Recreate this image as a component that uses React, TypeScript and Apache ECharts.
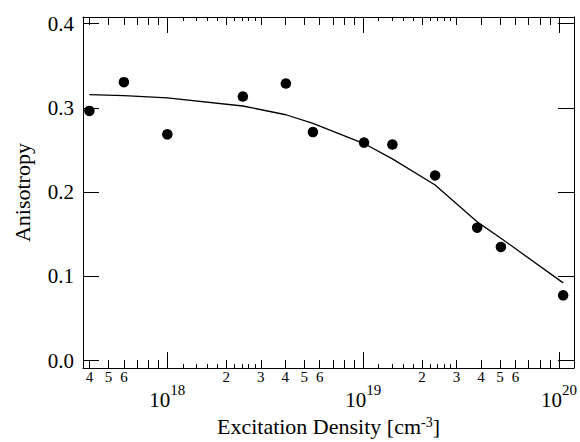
import React, { useEffect, useRef } from 'react';
import * as echarts from 'echarts';

// Measured points: excitation density [cm^-3] and anisotropy
const densities = [4.0e17, 6.0e17, 1.0e18, 2.43e18, 4.03e18, 5.54e18, 1.01e19, 1.41e19, 2.33e19, 3.82e19, 5.05e19, 1.05e20];
const anisotropy = [0.2965, 0.3306, 0.2686, 0.3135, 0.329, 0.2713, 0.2588, 0.2565, 0.2198, 0.1577, 0.1349, 0.0774];

// Fit curve
const fitDensities = [4.0e17, 6.0e17, 1.0e18, 2.43e18, 4.03e18, 5.54e18, 1.01e19, 1.41e19, 2.33e19, 3.82e19, 5.05e19, 1.05e20];
const fitValues = [0.3158, 0.3145, 0.312, 0.3023, 0.2919, 0.2817, 0.2577, 0.2395, 0.2085, 0.1647, 0.1453, 0.0922];

// Axis ticks
const majorTicks = [1e18, 1e19, 1e20];
const minorTicks = [4e17, 5e17, 6e17, 7e17, 8e17, 9e17, 2e18, 3e18, 4e18, 5e18, 6e18, 7e18, 8e18, 9e18, 2e19, 3e19, 4e19, 5e19, 6e19, 7e19, 8e19, 9e19];
const minorLabels = [4e17, 5e17, 6e17, 2e18, 3e18, 4e18, 5e18, 6e18, 2e19, 3e19, 4e19, 5e19, 6e19];
const smallTicks = [1.2e18, 1.4e18, 1.6e18, 1.8e18, 2.2e18, 2.4e18, 2.6e18, 2.8e18, 1.2e19, 1.4e19, 1.6e19, 1.8e19, 2.2e19, 2.4e19, 2.6e19, 2.8e19];
const yTicks = [0, 0.1, 0.2, 0.3, 0.4];

const X_MIN = Math.log10(3.71e17);
const X_MAX = Math.log10(1.192e20);
const Y_MIN = -0.009;
const Y_MAX = 0.408;

const FONT = '"Liberation Serif", "Times New Roman", serif';
const lg = (arr: number[]) => arr.map((v) => Math.log10(v));

export default function App() {
  const ref = useRef<HTMLDivElement>(null);
  useEffect(() => {
    if (!ref.current) return;
    const chart = echarts.init(ref.current, null, { renderer: 'svg' });

    const xCommon = (position: 'top' | 'bottom', ticks: number[], len: number, showLine: boolean) => ({
      type: 'value',
      position,
      min: X_MIN,
      max: X_MAX,
      gridIndex: 0,
      splitLine: { show: false },
      axisLine: { show: showLine, onZero: false, lineStyle: { color: '#000', width: 1 } },
      axisTick: { show: true, inside: true, length: len, customValues: lg(ticks), lineStyle: { color: '#000', width: 1 } },
      axisLabel: { show: false },
    });

    const majorBottom: any = xCommon('bottom', majorTicks, 16, true);
    majorBottom.axisLabel = {
      show: true,
      customValues: lg(majorTicks),
      margin: 14,
      formatter: (v: number) => `{b|10}{s|${Math.round(v)}}`,
      rich: {
        b: { fontFamily: FONT, fontSize: 21, color: '#000', lineHeight: 28, verticalAlign: 'bottom' },
        s: { fontFamily: FONT, fontSize: 15, color: '#000', lineHeight: 15, verticalAlign: 'top' },
      },
    };
    majorBottom.name = 'Excitation Density [cm{s|-3}]';
    majorBottom.nameLocation = 'middle';
    majorBottom.nameGap = 44;
    majorBottom.nameTextStyle = {
      fontFamily: FONT,
      fontSize: 22,
      color: '#000',
      rich: {
        s: { fontFamily: FONT, fontSize: 14, color: '#000', verticalAlign: 'top', lineHeight: 14 },
      },
    };

    const minorBottom: any = xCommon('bottom', minorTicks, 8, false);
    minorBottom.axisLabel = {
      show: true,
      customValues: lg(minorLabels),
      margin: 1,
      fontFamily: FONT,
      fontSize: 15,
      color: '#000',
      formatter: (v: number) => String(Math.round(Math.pow(10, v - Math.floor(v + 1e-9)))),
    };

    const option: any = {
      animation: false,
      backgroundColor: '#fff',
      grid: { left: 83, right: 4, top: 17, bottom: 66, containLabel: false },
      xAxis: [
        majorBottom,
        minorBottom,
        xCommon('bottom', smallTicks, 4, false),
        xCommon('top', majorTicks, 16, true),
        xCommon('top', minorTicks, 8, false),
        xCommon('top', smallTicks, 4, false),
      ],
      yAxis: [
        {
          type: 'value',
          position: 'left',
          min: Y_MIN,
          max: Y_MAX,
          splitLine: { show: false },
          axisLine: { show: true, onZero: false, lineStyle: { color: '#000', width: 1 } },
          axisTick: { show: true, inside: true, length: 16, customValues: yTicks, lineStyle: { color: '#000', width: 1 } },
          axisLabel: {
            show: true,
            customValues: yTicks,
            margin: 9,
            fontFamily: FONT,
            fontSize: 21,
            color: '#000',
            formatter: (v: number) => v.toFixed(1),
          },
          name: 'Anisotropy',
          nameLocation: 'middle',
          nameRotate: 90,
          nameGap: 50,
          nameTextStyle: { fontFamily: FONT, fontSize: 22, color: '#000' },
        },
        {
          type: 'value',
          position: 'right',
          min: Y_MIN,
          max: Y_MAX,
          splitLine: { show: false },
          axisLine: { show: true, onZero: false, lineStyle: { color: '#000', width: 1 } },
          axisTick: { show: true, inside: true, length: 16, customValues: yTicks, lineStyle: { color: '#000', width: 1 } },
          axisLabel: { show: false },
        },
      ],
      series: [
        {
          type: 'line',
          xAxisIndex: 0,
          yAxisIndex: 0,
          data: fitDensities.map((d, i) => [Math.log10(d), fitValues[i]]),
          showSymbol: false,
          symbol: 'none',
          lineStyle: { color: '#000', width: 1.3 },
          z: 2,
        },
        {
          type: 'scatter',
          xAxisIndex: 0,
          yAxisIndex: 0,
          data: densities.map((d, i) => [Math.log10(d), anisotropy[i]]),
          symbol: 'circle',
          symbolSize: 10.5,
          itemStyle: { color: '#000', opacity: 1 },
          z: 3,
        },
      ],
    };
    chart.setOption(option);
    return () => chart.dispose();
  }, []);
  return <div ref={ref} style={{ width: 580, height: 442, position: 'absolute', left: 0, top: 0 }} />;
}
